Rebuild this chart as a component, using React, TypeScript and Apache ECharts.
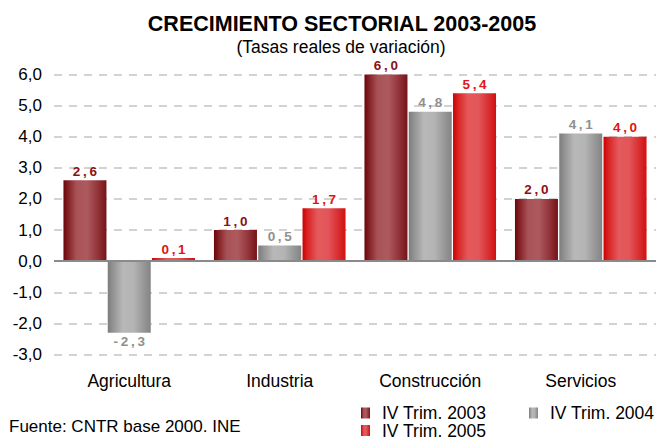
import React, { useEffect, useRef } from "react";
import * as echarts from "echarts";

const categories = ["Agricultura", "Industria", "Construcción", "Servicios"];
const seriesNames = ["IV Trim. 2003", "IV Trim. 2004", "IV Trim. 2005"];
const values2003 = [2.6, 1.0, 6.0, 2.0];
const values2004 = [-2.3, 0.5, 4.8, 4.1];
const values2005 = [0.1, 1.7, 5.4, 4.0];
const yMin = -3;
const yMax = 6;
const yInterval = 1;

const FONT = "'Liberation Sans', Arial, sans-serif";

const fmtComma = (v: number) => v.toFixed(1).replace(".", ",");
const spaced = (v: number) => fmtComma(v).split("").join("\u2009");

const grad = (stops: [number, string][]) =>
  new echarts.graphic.LinearGradient(
    0, 0, 1, 0,
    stops.map(([offset, color]) => ({ offset, color }))
  );

const colors2003 = grad([
  [0, "#6a0508"], [0.08, "#7e1a1e"], [0.3, "#a85256"], [0.55, "#ad5a5e"],
  [0.8, "#93343a"], [1, "#741318"],
]);
const colors2004 = grad([
  [0, "#7c7c7c"], [0.1, "#8f8f8f"], [0.35, "#b8b8b8"], [0.6, "#b4b4b4"],
  [0.85, "#959595"], [1, "#848484"],
]);
const colors2005 = grad([
  [0, "#cc0000"], [0.1, "#d82020"], [0.35, "#e45a5c"], [0.6, "#e25558"],
  [0.85, "#d82a2c"], [1, "#d01010"],
]);

const labelColors = ["#8b1116", "#8f8f8f", "#e01515"];

function buildData(values: number[]) {
  return values.map((v) => ({
    value: v,
    label: { position: v < 0 ? "bottom" : "top" },
  }));
}

export default function App() {
  const ref = useRef<HTMLDivElement>(null);
  useEffect(() => {
    if (!ref.current) return;
    const chart = echarts.init(ref.current, null, { renderer: "svg" });
    const allValues = [values2003, values2004, values2005];
    const fills = [colors2003, colors2004, colors2005];
    const series: any[] = allValues.map((vals, i) => ({
      name: seriesNames[i],
      type: "bar",
      data: buildData(vals),
      barWidth: 43,
      barGap: "3%",
      itemStyle: { color: fills[i] },
      label: {
        show: true,
        distance: 2,
        formatter: (p: any) => spaced(p.value),
        color: labelColors[i],
        fontFamily: FONT,
        fontWeight: "bold",
        fontSize: 13.5,
      },
      ...(i === 1
        ? {
            markLine: {
              silent: true,
              symbol: "none",
              label: { show: false },
              lineStyle: { color: "#8a8a8a", width: 2, type: "solid" },
              data: [{ yAxis: 0 }],
            },
          }
        : {}),
    }));

    chart.setOption({
      animation: false,
      textStyle: { fontFamily: FONT },
      title: [
        {
          text: "CRECIMIENTO SECTORIAL 2003-2005",
          left: 342,
          top: 13,
          textAlign: "center",
          padding: 0,
          textStyle: { fontFamily: FONT, fontWeight: "bold", fontSize: 21.5, color: "#000" },
        },
        {
          text: "(Tasas reales de variación)",
          left: 341,
          top: 38,
          textAlign: "center",
          padding: 0,
          textStyle: { fontFamily: FONT, fontWeight: "normal", fontSize: 17.5, color: "#000" },
        },
        {
          text: "Fuente: CNTR base 2000. INE",
          left: 9,
          top: 418,
          padding: 0,
          textStyle: { fontFamily: FONT, fontWeight: "normal", fontSize: 17, color: "#000" },
        },
      ],
      legend: [0, 1, 2].map((i) => ({
        data: [seriesNames[i]],
        left: i === 1 ? 529 : 361,
        top: i === 2 ? 421.5 : 404,
        padding: 0,
        itemWidth: 9,
        itemHeight: 11,
        icon: "rect",
        selectedMode: false,
        textStyle: {
          fontFamily: FONT,
          fontSize: 17.5,
          color: "#000",
          padding: [0, 0, 0, 7],
        },
      })),
      grid: { left: 54, right: 0, top: 74.5, bottom: 82.5, containLabel: false },
      xAxis: {
        type: "category",
        data: categories,
        axisLine: { show: false, onZero: false },
        axisTick: { show: false },
        axisLabel: {
          color: "#000",
          fontFamily: FONT,
          fontSize: 17.5,
          margin: 17,
        },
      },
      yAxis: {
        type: "value",
        min: yMin,
        max: yMax,
        interval: yInterval,
        axisLine: { show: false },
        axisTick: { show: false },
        axisLabel: {
          color: "#000",
          fontFamily: FONT,
          fontSize: 17,
          margin: 12,
          formatter: (v: number) => fmtComma(v),
        },
        splitLine: {
          lineStyle: { color: "#d2d2d2", width: 2, type: [8, 7] },
        },
      },
      series,
    });
    return () => chart.dispose();
  }, []);
  return (
    <div
      ref={ref}
      style={{ position: "fixed", left: 0, top: 0, width: 656, height: 437, background: "#fff" }}
    />
  );
}
